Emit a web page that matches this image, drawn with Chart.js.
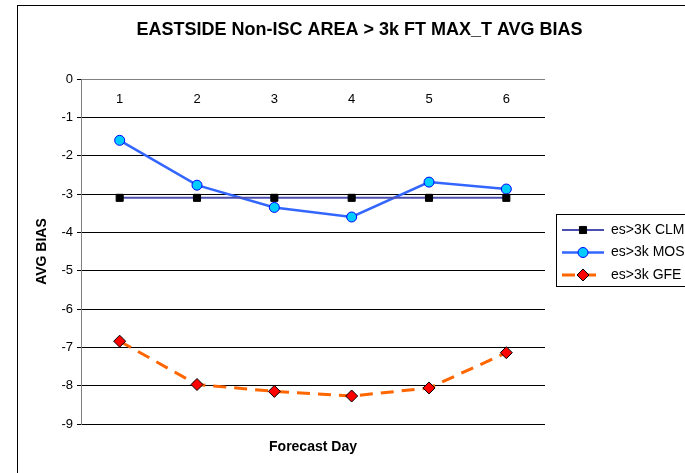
<!DOCTYPE html>
<html>
<head>
<meta charset="utf-8">
<script src="https://cdn.jsdelivr.net/npm/chart.js@4/dist/chart.umd.min.js"></script>
<style>
  body { margin: 0; background: #fff; }
  canvas { display: block; }
</style>
</head>
<body>
<canvas id="biasChart" width="685" height="473"></canvas>
<script>
const days = ["1", "2", "3", "4", "5", "6"];
const clm = [-3.1, -3.1, -3.1, -3.1, -3.1, -3.1];
const mos = [-1.6, -2.77, -3.35, -3.6, -2.69, -2.87];
const gfe = [-6.84, -7.97, -8.15, -8.27, -8.06, -7.14];
const yTicks = [0, -1, -2, -3, -4, -5, -6, -7, -8, -9];

const FONT = "'Liberation Sans', Arial, sans-serif";

// outer frame of the chart object
const framePlugin = {
  id: "frame",
  beforeDraw(chart) {
    const ctx = chart.ctx;
    ctx.save();
    ctx.strokeStyle = "#000";
    ctx.lineWidth = 1;
    ctx.strokeRect(17.5, 5.5, 720, 500);
    ctx.restore();
  }
};

// category labels sit just under the 0 line, inside the plot
const dayLabels = {
  id: "dayLabels",
  afterDatasetsDraw(chart) {
    const ctx = chart.ctx;
    const x = chart.scales.x;
    const y0 = chart.scales.y.getPixelForValue(0);
    ctx.save();
    ctx.fillStyle = "#000";
    ctx.font = "13px " + FONT;
    ctx.textAlign = "center";
    ctx.textBaseline = "middle";
    days.forEach((d, i) => ctx.fillText(d, x.getPixelForValue(i), y0 + 20));
    ctx.restore();
  }
};

const legendBox = {
  id: "legendBox",
  afterDraw(chart) {
    const ctx = chart.ctx;
    ctx.save();
    ctx.fillStyle = "#fff";
    ctx.fillRect(556, 214, 200, 73);
    ctx.strokeStyle = "#000";
    ctx.lineWidth = 1;
    ctx.strokeRect(556.5, 214.5, 200, 72);
    chart.data.datasets.forEach((ds, i) => {
      const yy = 230 + i * 22.5;
      ctx.strokeStyle = ds.borderColor;
      ctx.lineWidth = ds.borderWidth;
      ctx.setLineDash(ds.borderDash || []);
      ctx.beginPath();
      ctx.moveTo(562, yy);
      ctx.lineTo(604, yy);
      ctx.stroke();
      ctx.setLineDash([]);
      ctx.fillStyle = ds.pointBackgroundColor;
      ctx.strokeStyle = ds.pointBorderColor;
      ctx.lineWidth = ds.pointBorderWidth;
      Chart.helpers.drawPoint(ctx, {
        pointStyle: ds.pointStyle,
        radius: ds.pointRadius,
        borderWidth: ds.pointBorderWidth
      }, 583, yy);
      ctx.fillStyle = "#000";
      ctx.font = "14px " + FONT;
      ctx.textAlign = "left";
      ctx.textBaseline = "middle";
      ctx.fillText(ds.label, 611, yy);
    });
    ctx.restore();
  }
};

const ctx = document.getElementById("biasChart").getContext("2d");
new Chart(ctx, {
  type: "line",
  data: {
    labels: days,
    datasets: [
      {
        label: "es>3K CLM",
        data: clm,
        borderColor: "#4B50B0",
        borderWidth: 2,
        pointStyle: "rect",
        pointRadius: 5,
        pointBackgroundColor: "#000",
        pointBorderColor: "#000",
        pointBorderWidth: 1,
        tension: 0
      },
      {
        label: "es>3k MOS",
        data: mos,
        borderColor: "#3366FF",
        borderWidth: 2.5,
        pointStyle: "circle",
        pointRadius: 5,
        pointBackgroundColor: "#00CCFF",
        pointBorderColor: "#0000FF",
        pointBorderWidth: 1,
        tension: 0
      },
      {
        label: "es>3k GFE",
        data: gfe,
        borderColor: "#FF6600",
        borderWidth: 3,
        borderDash: [13, 8],
        pointStyle: "rectRot",
        pointRadius: 6,
        pointBackgroundColor: "#FF0000",
        pointBorderColor: "#000",
        pointBorderWidth: 1,
        tension: 0
      }
    ]
  },
  options: {
    responsive: false,
    animation: false,
    devicePixelRatio: 1,
    layout: { padding: { left: 34, right: 0, top: 0, bottom: 0 } },
    plugins: {
      legend: { display: false },
      tooltip: { enabled: false },
      title: {
        display: true,
        text: "EASTSIDE Non-ISC AREA > 3k FT MAX_T AVG BIAS",
        color: "#000",
        font: { family: FONT, size: 18, weight: "bold", lineHeight: 1.2 },
        padding: { top: 19.5, bottom: 37.9 }
      }
    },
    scales: {
      x: {
        type: "category",
        offset: true,
        grid: { display: false },
        border: { display: false },
        ticks: { display: false },
        title: {
          display: true,
          text: "Forecast Day",
          color: "#000",
          font: { family: FONT, size: 14, weight: "bold", lineHeight: 1.2 },
          padding: { top: 0, bottom: 17.6 }
        },
        afterFit(s) { s.height = 49; }
      },
      y: {
        min: -9,
        max: 0,
        afterBuildTicks(s) { s.ticks = yTicks.map(v => ({ value: v })); },
        ticks: {
          color: "#000",
          font: { family: FONT, size: 13 },
          padding: 4
        },
        grid: {
          color: c => (c.tick && c.tick.value === 0 ? "#808080" : "#000"),
          tickColor: "#000",
          tickLength: 4,
          lineWidth: 1
        },
        border: { display: true, color: "#808080", width: 1 },
        title: {
          display: true,
          text: "AVG BIAS",
          color: "#000",
          font: { family: FONT, size: 14, weight: "bold", lineHeight: 1.2 },
          padding: 0
        },
        afterFit(s) { s.width = 47; }
      },
      yR: {
        position: "right",
        display: true,
        grid: { display: false },
        border: { display: false },
        ticks: { display: false },
        afterFit(s) { s.width = 140; }
      }
    }
  },
  plugins: [framePlugin, dayLabels, legendBox]
});
</script>
</body>
</html>
